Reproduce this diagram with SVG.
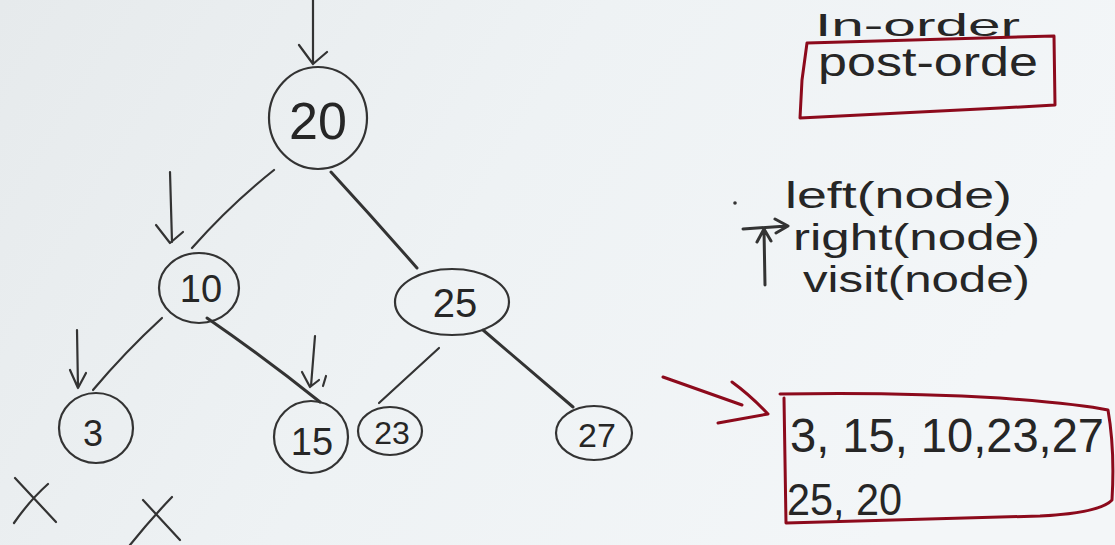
<svg xmlns="http://www.w3.org/2000/svg" width="1115" height="545" viewBox="0 0 1115 545">
<defs>
<linearGradient id="bg" x1="0" y1="0" x2="1" y2="0.3">
<stop offset="0" stop-color="#e6eaec"/>
<stop offset="0.5" stop-color="#eef2f4"/>
<stop offset="1" stop-color="#f3f6f8"/>
</linearGradient>
<style>
.ink{fill:none;stroke:#333;stroke-width:2.2;stroke-linecap:round;stroke-linejoin:round}
.thick{stroke-width:3}
.red{fill:none;stroke:#8c0a1c;stroke-width:3;stroke-linecap:round;stroke-linejoin:round}
.t{font-family:"Liberation Sans","DejaVu Sans",sans-serif;fill:#262626}
.n{text-anchor:middle}
</style>
</defs>
<rect width="1115" height="545" fill="url(#bg)"/>

<g id="connectors">
<path class="ink" d="M274,170 Q230,205 192,248"/>
<path class="ink thick" d="M331,172 Q375,220 417,268"/>
<path class="ink" d="M162,318 Q125,352 93,390"/>
<path class="ink thick" d="M207,318 Q265,358 320,402"/>
<path class="ink" d="M439,348 L379,403"/>
<path class="ink thick" d="M483,330 Q530,370 573,407"/>
<!-- traversal arrows -->
<path class="ink" d="M313,0 L313,62 M299,45 L313,64 L327,52"/>
<path class="ink" d="M170,172 L172,242 M156,225 L170,243 L183,232"/>
<path class="ink" d="M77,330 L78,388 M70,370 L78,388 L86,373"/>
<path class="ink" d="M315,336 L311,386 M302,372 L310,387 L319,380 M326,376 L323,386"/>
</g>

<g id="node-20"><ellipse class="ink" cx="318" cy="118" rx="49" ry="51"/><text class="t n" x="318" y="139" font-size="52">20</text></g>
<g id="node-10"><ellipse class="ink" cx="199" cy="288" rx="40" ry="35"/><text class="t n" x="201" y="302" font-size="38">10</text></g>
<g id="node-25"><ellipse class="ink" cx="452" cy="302" rx="57" ry="33"/><text class="t n" x="455" y="317" font-size="40">25</text></g>
<g id="node-3"><ellipse class="ink" cx="96" cy="428" rx="37" ry="35"/><text class="t n" x="93" y="446" font-size="36">3</text></g>
<g id="node-15"><ellipse class="ink" cx="311" cy="437" rx="37" ry="36"/><text class="t n" x="312" y="455" font-size="38">15</text></g>
<g id="node-23"><ellipse class="ink" cx="390" cy="431" rx="32" ry="24"/><text class="t n" x="392" y="444" font-size="32">23</text></g>
<g id="node-27"><ellipse class="ink" cx="594" cy="433" rx="38" ry="27"/><text class="t n" x="597" y="447" font-size="34">27</text></g>

<g id="x-marks">
<path class="ink" d="M15,478 L56,522 M14,523 Q30,500 48,484"/>
<path class="ink" d="M143,500 L180,540 M130,545 Q150,520 172,497"/>
</g>

<g id="labels">
<text class="t" x="815" y="36" font-size="32" textLength="205" lengthAdjust="spacingAndGlyphs">In-order</text>
<text class="t" x="818" y="76" font-size="40" textLength="220" lengthAdjust="spacingAndGlyphs">post-orde</text>
<path class="red" d="M807,43 L1054,36 L1055,105 L1000,108 L800,118 L802,80 Z"/>
<circle cx="735" cy="203" r="1.8" fill="#333"/>
<text class="t" x="785" y="208" font-size="36" textLength="227" lengthAdjust="spacingAndGlyphs">left(node)</text>
<text class="t" x="793" y="250" font-size="36" textLength="247" lengthAdjust="spacingAndGlyphs">right(node)</text>
<text class="t" x="803" y="292" font-size="36" textLength="227" lengthAdjust="spacingAndGlyphs">visit(node)</text>
<path class="ink thick" d="M743,229 L787,226 M775,219 L788,226 L776,233"/>
<path class="ink thick" d="M765,285 L764,230 M757,242 L764,229 L771,241"/>
</g>

<g id="result">
<path class="red" d="M663,377 L742,405 M732,382 Q750,395 768,414 L718,423"/>
<path class="red" d="M780,394 Q900,392 1000,398 Q1080,404 1108,410 Q1115,450 1112,500 Q1100,513 1040,516 L786,523 L784,398"/>
<text class="t" x="790" y="452" font-size="48" textLength="314" lengthAdjust="spacingAndGlyphs">3, 15, 10,23,27</text>
<text class="t" x="787" y="515" font-size="44" textLength="115" lengthAdjust="spacingAndGlyphs">25, 20</text>
</g>
</svg>
